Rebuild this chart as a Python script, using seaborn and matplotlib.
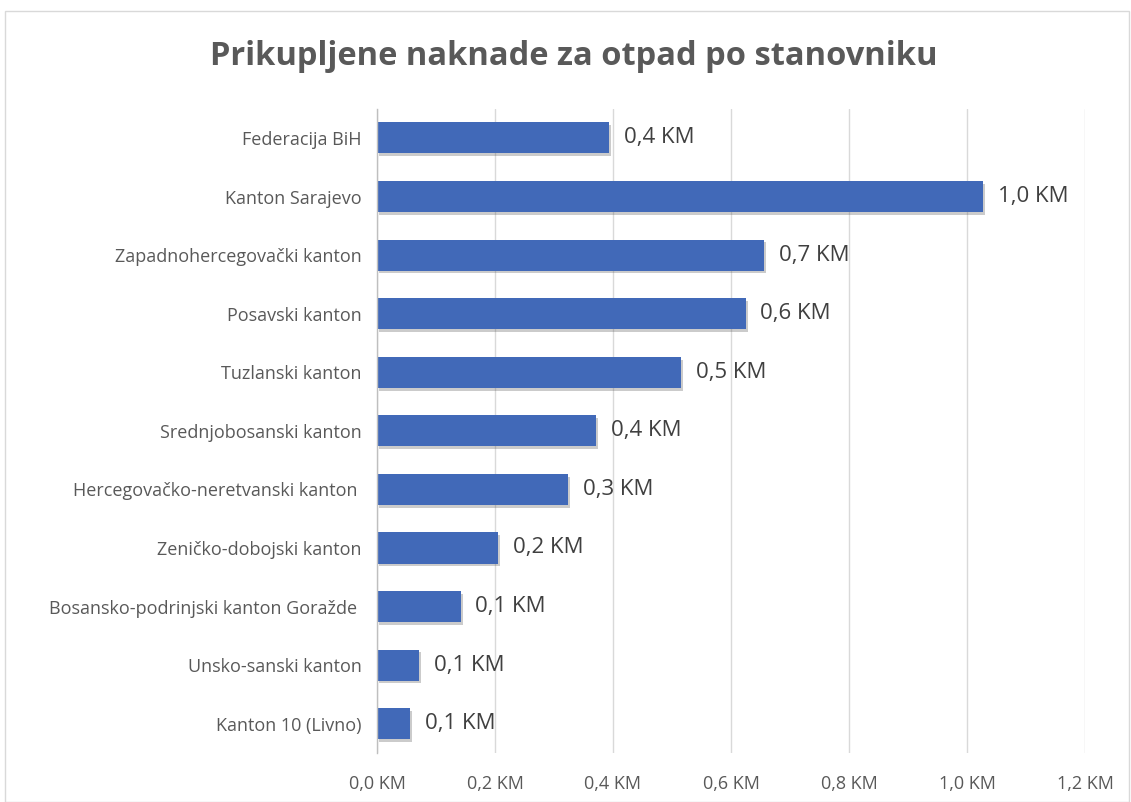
import matplotlib
matplotlib.use("Agg")
import matplotlib.pyplot as plt
import matplotlib.patheffects as pe
from matplotlib.patches import Rectangle
import seaborn as sns
import pandas as pd

categories = [
    "Federacija BiH",
    "Kanton Sarajevo",
    "Zapadnohercegovački kanton",
    "Posavski kanton",
    "Tuzlanski kanton",
    "Srednjobosanski kanton",
    "Hercegovačko-neretvanski kanton ",
    "Zeničko-dobojski kanton",
    "Bosansko-podrinjski kanton Goražde ",
    "Unsko-sanski kanton",
    "Kanton 10 (Livno)",
]
values = [0.393, 1.027, 0.656, 0.625, 0.515, 0.371, 0.324, 0.205, 0.142, 0.071, 0.056]
x_ticks = [0.0, 0.2, 0.4, 0.6, 0.8, 1.0, 1.2]

sns.set_theme(style="white")
plt.rcParams['font.family'] = ['Open Sans', 'DejaVu Sans']

df = pd.DataFrame({"cat": categories, "val": values})

fig = plt.figure(figsize=(11.31, 8.02), dpi=100)
ax = fig.add_axes([0.3333, 0.0611, 0.6260, 0.8034])

sns.barplot(data=df, x="val", y="cat", orient="h", color="#4169B8",
            width=0.53, ax=ax, saturation=1)

for p in ax.patches:
    p.set_path_effects([pe.SimplePatchShadow(offset=(1.5, -2), alpha=0.3, shadow_rgbFace="#555555"), pe.Normal()])
    p.set_edgecolor("none")

ax.set_xlim(0, 1.2)
ax.set_xticks(x_ticks)
ax.set_xticklabels([f"{t:.1f}".replace(".", ",") + " KM" for t in x_ticks],
                   color="#595959", fontsize=13)
ax.tick_params(axis="x", length=0, pad=16)
ax.xaxis.grid(True, color="#d9d9d9", linewidth=1)
ax.set_axisbelow(True)
ax.set_xlabel("")
ax.set_ylabel("")

ax.tick_params(axis="y", length=0, pad=11)
for lab in ax.get_yticklabels():
    lab.set_color("#595959")
    lab.set_fontsize(13)

for s in ["top", "right", "bottom"]:
    ax.spines[s].set_visible(False)
ax.spines["left"].set_color("#bfbfbf")
ax.spines["left"].set_linewidth(1)

n = len(categories)
ax.set_yticks([i + 0.5 for i in range(-1, n)], minor=True)
ax.tick_params(axis="y", which="minor", length=5, color="#bfbfbf", width=1, direction="out")
ax.set_ylim(n - 0.5, -0.5)

for i, v in enumerate(values):
    ax.text(v + 0.025, i, f"{v:.1f}".replace(".", ",") + " KM", va="center", ha="left",
            fontsize=16, color="#404040")

fig.text(0.507, 0.929, "Prikupljene naknade za otpad po stanovniku", ha="center", va="center",
         fontsize=23.5, fontweight="bold", color="#595959",
         family=["Open Sans", "DejaVu Sans"])

fig.patches.append(Rectangle((0.004, 0.0), 0.994, 0.986, transform=fig.transFigure,
                             fill=False, edgecolor="#d9d9d9", linewidth=1))

fig.savefig("out.png", dpi=100)
